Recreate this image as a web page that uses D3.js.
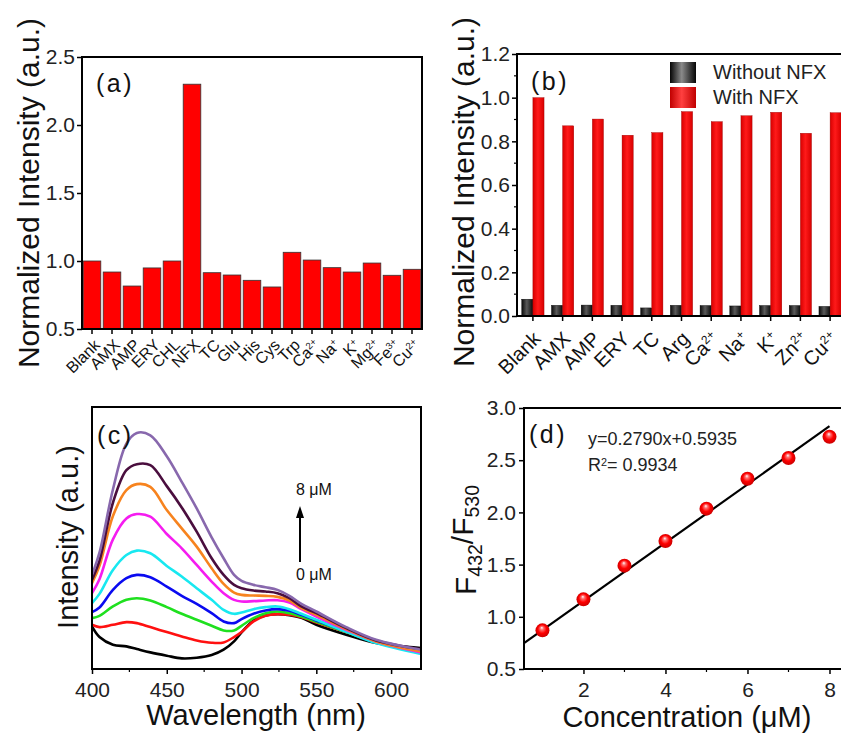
<!DOCTYPE html>
<html><head><meta charset="utf-8">
<script src="https://cdn.jsdelivr.net/npm/d3@7"></script>
<style>
body{margin:0;background:#fff;}
svg{display:block;font-family:"Liberation Sans",Arial,Helvetica,sans-serif;}
</style></head><body>
<svg id="fig" width="841" height="733"></svg>
<script>
// ---------- Panel (a) data ----------
const catsA = ["Blank","AMX","AMP","ERY","CHL","NFX","TC","Glu","His","Cys","Trp","Ca|2+","Na|+","K|+","Mg|2+","Fe|3+","Cu|2+"];
const valsA = [1.0,0.919,0.816,0.949,1.0,2.30,0.914,0.897,0.858,0.809,1.064,1.007,0.951,0.919,0.985,0.895,0.939];
const ticksA = [0.5,1.0,1.5,2.0,2.5];

// ---------- Panel (b) data ----------
const catsB = ["Blank","AMX","AMP","ERY","TC","Arg","Ca|2+","Na|+","K|+","Zn|2+","Cu|2+"];
const seriesB = ["Without NFX","With NFX"];
const withoutNFX = [0.077,0.049,0.050,0.049,0.037,0.049,0.048,0.046,0.048,0.048,0.044];
const withNFX = [1.0,0.871,0.902,0.828,0.840,0.936,0.890,0.917,0.933,0.837,0.931];
const ticksB = [0,0.2,0.4,0.6,0.8,1.0,1.2];
const minorB = [0.1,0.3,0.5,0.7,0.9,1.1];

// ---------- Panel (c) data (arbitrary intensity units) ----------
const wavelengths = [400,405,414,423,430,439,450,460,470,480,488,495,500,508,516,524,532,540,550,570,590,620];
const spec0 = [128,96,73,68,60,50,40,32,34,42,58,83,110,146,161,165,162,154,133,103,78,63];
const spec1 = [133,126,133,141,138,126,111,98,86,79,80,96,111,143,160,165,163,156,140,111,82,53];
const spec2 = [153,160,188,208,213,206,186,166,148,130,116,116,130,153,168,173,168,158,142,111,81,52];
const spec3 = [171,185,238,273,283,276,248,220,196,168,143,138,150,166,176,180,175,163,146,113,83,50];
const spec4 = [198,226,298,343,356,348,310,278,243,208,178,166,170,180,186,188,180,166,148,112,78,45];
const spec5 = [228,270,390,453,466,458,406,363,313,263,228,208,203,204,206,207,200,180,158,118,83,50];
const spec6 = [258,310,460,538,556,548,478,423,368,303,256,230,223,221,220,217,206,183,163,120,83,53];
const spec7 = [268,326,500,598,616,613,550,486,413,333,283,253,243,236,233,228,213,188,168,123,86,60];
const spec8 = [283,350,540,678,710,703,640,563,483,396,333,283,265,253,246,238,220,196,173,126,88,58];
const specColors = ["#000000","#ff1010","#1fe01f","#0a0af0","#18e8f0","#f51cf0","#f7831e","#4a0e3e","#8868ad"];
const ticksC = [400,450,500,550,600];
const minorC = [425,475,525,575];
const arrowLabels = ["8 μM","0 μM"];

// ---------- Panel (d) data ----------
const conc = [1,2,3,4,5,6,7,8];
const ratio = [0.870,1.167,1.490,1.726,2.036,2.323,2.521,2.725];
const fitSlope = 0.2790, fitIntercept = 0.5935, fitR2 = 0.9934;
const ticksDx = [2,4,6,8];
const minorDx = [1,3,5,7];
const ticksDy = [0.5,1.0,1.5,2.0,2.5,3.0];

// ---------- drawing ----------
const svg = d3.select("#fig");
const defs = svg.append("defs");
const fmt1 = d3.format(".1f");

function frame(x0,y0,x1,y1){
  svg.append("rect").attr("x",x0).attr("y",y0).attr("width",x1-x0).attr("height",y1-y0)
    .attr("fill","none").attr("stroke","#000").attr("stroke-width",2);
}
function styleAxis(g,size){
  g.select(".domain").remove();
  g.selectAll(".tick line").attr("stroke","#000").attr("stroke-width",1.5);
  g.selectAll(".tick text").attr("font-size",size).attr("fill","#222").attr("font-family",null);
}
function supLabel(sel, label){
  const parts = label.split("|");
  sel.append("tspan").text(parts[0]);
  if(parts[1]) sel.append("tspan").attr("dy","-0.55em").attr("font-size","0.6em").text(parts[1]);
}
function panelLabel(x,y,t){
  svg.append("text").attr("x",x).attr("y",y).attr("font-size",25).attr("letter-spacing",2.5).attr("fill","#111").text(t);
}
function yTitle(x,y,size){
  return svg.append("text").attr("transform",`translate(${x},${y}) rotate(-90)`).attr("text-anchor","middle").attr("font-size",size).attr("fill","#111");
}

// ===== Panel (a) =====
const A = {l:82,r:422,t:57,b:329};
const xA = d3.scaleBand().domain(catsA).range([A.l,A.r]).paddingInner(0.12).paddingOuter(0.06);
const yA = d3.scaleLinear().domain([0.5,2.5]).range([A.b,A.t]);
svg.append("g").selectAll("rect").data(catsA).join("rect")
  .attr("x",d=>xA(d)).attr("width",xA.bandwidth())
  .attr("y",(d,i)=>yA(valsA[i])).attr("height",(d,i)=>yA(0.5)-yA(valsA[i]))
  .attr("fill","#ff0000").attr("stroke","#333").attr("stroke-width",0.8);
const gAy = svg.append("g").attr("transform",`translate(${A.l},0)`)
  .call(d3.axisLeft(yA).tickValues(ticksA).tickSize(5).tickPadding(2).tickFormat(fmt1));
styleAxis(gAy,21);
catsA.forEach(c=>{
  const cx = xA(c)+xA.bandwidth()/2;
  svg.append("line").attr("x1",cx).attr("x2",cx).attr("y1",A.b).attr("y2",A.b+5).attr("stroke","#000").attr("stroke-width",1.5);
  const t = svg.append("text").attr("transform",`translate(${cx+9},${A.b+17}) rotate(-45)`)
    .attr("text-anchor","end").attr("font-size",16).attr("fill","#111");
  supLabel(t,c);
});
frame(A.l,A.t,A.r,A.b);
yTitle(39,193,30).text("Normalized Intensity (a.u.)");
panelLabel(96,92,"(a)");

// ===== Panel (b) =====
const B = {l:517,r:846,t:54,b:316};
const xB = d3.scaleBand().domain(catsB).range([B.l,B.r]).paddingInner(0.25).paddingOuter(0.16);
const xSub = d3.scaleBand().domain(seriesB).range([0,xB.bandwidth()]);
const yB = d3.scaleLinear().domain([0,1.2]).range([B.b,B.t]);
function hGrad(id,edge,mid){
  const g = defs.append("linearGradient").attr("id",id).attr("x1","0").attr("x2","1").attr("y1","0").attr("y2","0");
  g.append("stop").attr("offset","0%").attr("stop-color",edge);
  g.append("stop").attr("offset","45%").attr("stop-color",mid);
  g.append("stop").attr("offset","100%").attr("stop-color",edge);
}
hGrad("gBlack","#0a0a0a","#5a5a5a");
hGrad("gRed","#d80000","#ff1a1a");
hGrad("gBlackL","#050505","#8a8a8a");
hGrad("gRedL","#c00000","#ff4040");
const seriesVals = [withoutNFX, withNFX];
const seriesFill = ["url(#gBlack)","url(#gRed)"];
seriesB.forEach((s,si)=>{
  svg.append("g").selectAll("rect").data(catsB).join("rect")
    .attr("x",d=>xB(d)+xSub(s)).attr("width",xSub.bandwidth())
    .attr("y",(d,i)=>yB(seriesVals[si][i])).attr("height",(d,i)=>yB(0)-yB(seriesVals[si][i]))
    .attr("fill",seriesFill[si]).attr("stroke",si?"#900":"#000").attr("stroke-width",0.4);
});
const gBy = svg.append("g").attr("transform",`translate(${B.l},0)`)
  .call(d3.axisLeft(yB).tickValues(ticksB).tickSize(5).tickPadding(2).tickFormat(fmt1));
styleAxis(gBy,21);
minorB.forEach(v=>svg.append("line").attr("x1",B.l-3).attr("x2",B.l).attr("y1",yB(v)).attr("y2",yB(v)).attr("stroke","#000").attr("stroke-width",1.2));
catsB.forEach(c=>{
  const cx = xB(c)+xB.bandwidth()/2;
  svg.append("line").attr("x1",cx).attr("x2",cx).attr("y1",B.b).attr("y2",B.b+5).attr("stroke","#000").attr("stroke-width",1.5);
  const t = svg.append("text").attr("transform",`translate(${cx+9},${B.b+24}) rotate(-45)`)
    .attr("text-anchor","end").attr("font-size",20).attr("fill","#111");
  supLabel(t,c);
});
frame(B.l,B.t,B.r,B.b);
yTitle(474,192,30).text("Normalized Intensity (a.u.)");
panelLabel(531,90,"(b)");
// legend
const legFill = ["url(#gBlackL)","url(#gRedL)"];
seriesB.forEach((s,i)=>{
  svg.append("rect").attr("x",670).attr("y",62+i*25).attr("width",26).attr("height",21).attr("fill",legFill[i]);
  svg.append("text").attr("x",713).attr("y",79+i*25).attr("font-size",20).attr("fill","#222").text(s);
});

// ===== Panel (c) =====
const C = {l:92,r:421,t:407,b:669};
const xC = d3.scaleLinear().domain([400,620]).range([C.l,C.r]);
const yC = d3.scaleLinear().domain([0,788]).range([C.b,C.t]);
defs.append("clipPath").attr("id","clipC").append("rect").attr("x",C.l).attr("y",C.t).attr("width",C.r-C.l).attr("height",C.b-C.t);
const spectra = [spec0,spec1,spec2,spec3,spec4,spec5,spec6,spec7,spec8];
const lineC = d3.line().x(d=>xC(d[0])).y(d=>yC(d[1])).curve(d3.curveCatmullRom.alpha(0.5));
const gC = svg.append("g").attr("clip-path","url(#clipC)");
spectra.forEach((s,i)=>{
  gC.append("path").attr("d",lineC(wavelengths.map((w,j)=>[w,s[j]])))
    .attr("fill","none").attr("stroke",specColors[i]).attr("stroke-width",2.6).attr("stroke-linejoin","round");
});
const gCx = svg.append("g").attr("transform",`translate(0,${C.b})`)
  .call(d3.axisBottom(xC).tickValues(ticksC).tickSize(5).tickPadding(8).tickFormat(d3.format("d")));
styleAxis(gCx,21);
minorC.forEach(v=>svg.append("line").attr("x1",xC(v)).attr("x2",xC(v)).attr("y1",C.b).attr("y2",C.b+3).attr("stroke","#000").attr("stroke-width",1.2));
frame(C.l,C.t,C.r,C.b);
// arrow
svg.append("line").attr("x1",300).attr("x2",300).attr("y1",562).attr("y2",515).attr("stroke","#000").attr("stroke-width",2);
svg.append("path").attr("d","M300,506 L304,518 L296,518 Z").attr("fill","#000");
svg.append("text").attr("x",296).attr("y",495).attr("font-size",16).attr("fill","#111").text(arrowLabels[0]);
svg.append("text").attr("x",296).attr("y",580).attr("font-size",16).attr("fill","#111").text(arrowLabels[1]);
svg.append("text").attr("x",256).attr("y",725).attr("text-anchor","middle").attr("font-size",29).attr("fill","#111").text("Wavelength (nm)");
yTitle(78,537,29).text("Intensity (a.u.)");
panelLabel(97,444,"(c)");

// ===== Panel (d) =====
const D = {l:524,r:850,t:408,b:669};
const xD = d3.scaleLinear().domain([0.55,8.5]).range([D.l,D.r]);
const yD = d3.scaleLinear().domain([0.5,3.0]).range([D.b,D.t]);
const rg = defs.append("radialGradient").attr("id","sphere").attr("cx","0.5").attr("cy","0.5").attr("r","0.55").attr("fx","0.45").attr("fy","0.3");
rg.append("stop").attr("offset","0%").attr("stop-color","#ffffff");
rg.append("stop").attr("offset","22%").attr("stop-color","#ff7070");
rg.append("stop").attr("offset","55%").attr("stop-color","#ff0000");
rg.append("stop").attr("offset","100%").attr("stop-color","#c00000");
const fitX = [0.55, 8];
svg.append("line").attr("x1",xD(fitX[0])).attr("y1",yD(fitSlope*fitX[0]+fitIntercept))
  .attr("x2",xD(fitX[1])).attr("y2",yD(fitSlope*fitX[1]+fitIntercept)).attr("stroke","#000").attr("stroke-width",2.2);
svg.append("g").selectAll("circle").data(conc).join("circle")
  .attr("cx",d=>xD(d)).attr("cy",(d,i)=>yD(ratio[i])).attr("r",7).attr("fill","url(#sphere)");
const gDy = svg.append("g").attr("transform",`translate(${D.l},0)`)
  .call(d3.axisLeft(yD).tickValues(ticksDy).tickSize(5).tickPadding(3).tickFormat(fmt1));
styleAxis(gDy,21);
const gDx = svg.append("g").attr("transform",`translate(0,${D.b})`)
  .call(d3.axisBottom(xD).tickValues(ticksDx).tickSize(5).tickPadding(8).tickFormat(d3.format("d")));
styleAxis(gDx,21);
minorDx.forEach(v=>svg.append("line").attr("x1",xD(v)).attr("x2",xD(v)).attr("y1",D.b).attr("y2",D.b+3).attr("stroke","#000").attr("stroke-width",1.2));
frame(D.l,D.t,D.r,D.b);
svg.append("text").attr("x",588).attr("y",445).attr("font-size",18).attr("fill","#222")
  .text(`y=${fitSlope.toFixed(4)}x+${fitIntercept.toFixed(4)}`);
const r2t = svg.append("text").attr("x",588).attr("y",471).attr("font-size",18).attr("fill","#222");
r2t.append("tspan").text("R");
r2t.append("tspan").attr("dy","-0.5em").attr("font-size","0.6em").text("2");
r2t.append("tspan").attr("dy","0.3em").text(`= ${fitR2.toFixed(4)}`);
svg.append("text").attr("x",687).attr("y",727).attr("text-anchor","middle").attr("font-size",29).attr("fill","#111").text("Concentration (μM)");
const ft = yTitle(476,540,30);
ft.append("tspan").text("F");
ft.append("tspan").attr("dy","0.3em").attr("font-size","0.65em").text("432");
ft.append("tspan").attr("dy","-0.3em").text("/F");
ft.append("tspan").attr("dy","0.3em").attr("font-size","0.65em").text("530");
panelLabel(529,443,"(d)");
</script>
</body></html>
